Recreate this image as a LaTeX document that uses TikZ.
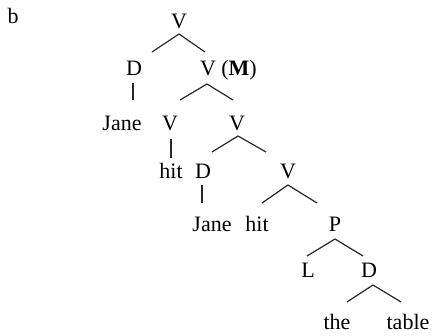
\documentclass[tikz,border=0pt]{standalone}
\usepackage{fontspec}
\setmainfont{Liberation Serif}
\begin{document}
\begin{tikzpicture}[x=1pt,y=-1pt,
  lab/.style={anchor=base,inner sep=0pt,font=\fontsize{22}{26}\selectfont},
  br/.style={line width=1.2pt,black!85}]
\useasboundingbox (0,0) rectangle (433,335);
% labels
\node[lab] (b) at (13,23) {b};
\node[lab] (v0) at (179,28) {V};
\node[lab] (d1) at (134,75) {D};
\node[lab] (v1) at (208,75) {V};
\node[lab,anchor=base west] (m1) at ([xshift=5pt]v1.base east) {(\textbf{M})};
\node[lab] (jane1) at (122,130) {Jane};
\node[lab] (v2) at (170,130) {V};
\node[lab] (v3) at (237,130) {V};
\node[lab] (hit1) at (171,178) {hit};
\node[lab] (d2) at (203,178) {D};
\node[lab] (v4) at (288,178) {V};
\node[lab] (jane2) at (212,231) {Jane};
\node[lab] (hit2) at (257,231) {hit};
\node[lab] (p1) at (335,231) {P};
\node[lab] (l1) at (308,277) {L};
\node[lab] (d3) at (369,277) {D};
\node[lab] (the) at (337,329) {the};
\node[lab] (table) at (408,329) {table};
% branch points
\coordinate (a0) at (179,34);  \coordinate (a0l) at (152,52);  \coordinate (a0r) at (205,52);
\coordinate (u1t) at (133,83); \coordinate (u1b) at (133,100);
\coordinate (a1) at (207,84);  \coordinate (a1l) at (180,100); \coordinate (a1r) at (233,100);
\coordinate (u2t) at (171,139);\coordinate (u2b) at (171,158);
\coordinate (a3) at (238,136); \coordinate (a3l) at (212,152); \coordinate (a3r) at (266,152);
\coordinate (u3t) at (202,185);\coordinate (u3b) at (202,203);
\coordinate (a4) at (288,185); \coordinate (a4l) at (262,203); \coordinate (a4r) at (317,203);
\coordinate (a5) at (335,239); \coordinate (a5l) at (307,256); \coordinate (a5r) at (363,256);
\coordinate (a6) at (373,285); \coordinate (a6l) at (347,302); \coordinate (a6r) at (401,302);
% branches
\draw[br] (a0l) -- (a0) -- (a0r);
\draw[br] (u1t) -- (u1b);
\draw[br] (a1l) -- (a1) -- (a1r);
\draw[br] (u2t) -- (u2b);
\draw[br] (a3l) -- (a3) -- (a3r);
\draw[br] (u3t) -- (u3b);
\draw[br] (a4l) -- (a4) -- (a4r);
\draw[br] (a5l) -- (a5) -- (a5r);
\draw[br] (a6l) -- (a6) -- (a6r);
\end{tikzpicture}
\end{document}
